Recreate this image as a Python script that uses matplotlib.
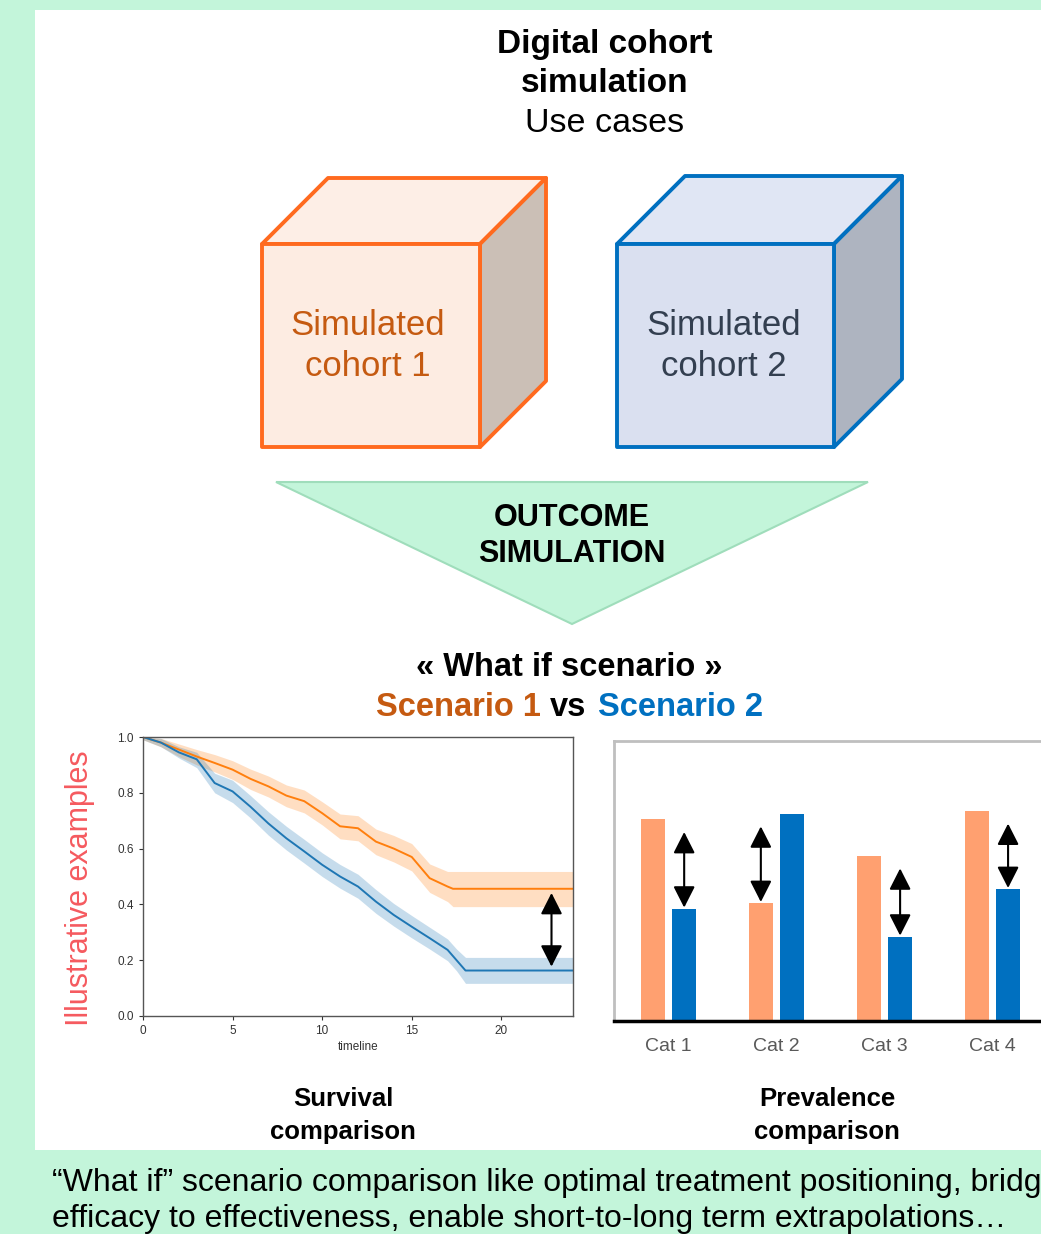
import matplotlib.pyplot as plt
from matplotlib.patches import Polygon, Rectangle

plt.rcParams['font.family'] = ['Liberation Sans', 'DejaVu Sans']

# survival curves
t_orange = [0, 1, 2, 3, 4, 5, 6, 7, 8, 9, 10, 11, 12, 13, 14, 15, 16, 17, 17.3, 24]
s_orange = [1.0, 0.98, 0.955, 0.93, 0.907, 0.883, 0.85, 0.823, 0.79, 0.77, 0.727, 0.68, 0.673, 0.625, 0.60, 0.57, 0.494, 0.464, 0.456, 0.456]
lo_orange = [0.99, 0.965, 0.93, 0.90, 0.875, 0.848, 0.812, 0.785, 0.75, 0.728, 0.685, 0.635, 0.628, 0.578, 0.552, 0.52, 0.443, 0.41, 0.392, 0.392]
hi_orange = [1.0, 0.995, 0.975, 0.955, 0.937, 0.915, 0.885, 0.86, 0.828, 0.81, 0.768, 0.724, 0.718, 0.67, 0.647, 0.618, 0.545, 0.518, 0.518, 0.518]

t_blue = [0, 1, 2, 3, 4, 5, 6, 7, 8, 9, 10, 11, 12, 13, 14, 15, 16, 17, 17.5, 18, 24]
s_blue = [1.0, 0.98, 0.945, 0.92, 0.835, 0.805, 0.75, 0.69, 0.637, 0.59, 0.542, 0.50, 0.464, 0.41, 0.362, 0.32, 0.279, 0.237, 0.20, 0.163, 0.163]
lo_blue = [0.99, 0.965, 0.925, 0.89, 0.80, 0.765, 0.71, 0.648, 0.595, 0.548, 0.50, 0.458, 0.422, 0.368, 0.322, 0.28, 0.24, 0.198, 0.162, 0.117, 0.117]
hi_blue = [1.0, 0.995, 0.965, 0.945, 0.87, 0.845, 0.79, 0.732, 0.68, 0.633, 0.585, 0.543, 0.508, 0.453, 0.403, 0.36, 0.318, 0.276, 0.24, 0.21, 0.21]

# prevalence bars
categories = ['Cat 1', 'Cat 2', 'Cat 3', 'Cat 4']
scenario1 = [72, 42, 59, 75]
scenario2 = [40, 74, 30, 47]

green = '#C3F5DA'
orange_edge = '#FF6A1F'
blue_edge = '#0070C0'
dark_orange = '#C55A11'
arrow_style = '<|-|>,head_length=0.65,head_width=0.33'

W, H = 1041, 1234
fig = plt.figure(figsize=(W / 100, H / 100), dpi=100)
fig.patch.set_facecolor(green)

bg = fig.add_axes([0, 0, 1, 1])
bg.set_xlim(0, W)
bg.set_ylim(H, 0)
bg.axis('off')

# white panel
bg.add_patch(Rectangle((35, 10), W - 35, 1140, facecolor='white', edgecolor='none'))

# titles
bg.text(605, 45, 'Digital cohort', ha='center', va='center', fontsize=24, fontweight='bold')
bg.text(605, 84, 'simulation', ha='center', va='center', fontsize=24, fontweight='bold')
bg.text(605, 124, 'Use cases', ha='center', va='center', fontsize=24.5)


def cube(x0, y0, w, h, d, edge, front, top, side):
    bg.add_patch(Polygon([(x0, y0), (x0 + d, y0 - d), (x0 + w + d, y0 - d), (x0 + w, y0)],
                         closed=True, facecolor=top, edgecolor=edge, lw=2.8, joinstyle='round'))
    bg.add_patch(Polygon([(x0 + w, y0), (x0 + w + d, y0 - d), (x0 + w + d, y0 + h - d), (x0 + w, y0 + h)],
                         closed=True, facecolor=side, edgecolor=edge, lw=2.8, joinstyle='round'))
    bg.add_patch(Rectangle((x0, y0), w, h, facecolor=front, edgecolor=edge, lw=2.8, joinstyle='round'))


cube(262, 244, 218, 203, 66, orange_edge, '#FDECE2', '#FDEEE6', '#CBBFB6')
cube(617, 244, 217, 203, 68, blue_edge, '#DAE0F0', '#E0E6F4', '#AEB4C0')
bg.text(368, 346, 'Simulated\ncohort 1', ha='center', va='center', fontsize=25,
        color=dark_orange, linespacing=1.3)
bg.text(724, 346, 'Simulated\ncohort 2', ha='center', va='center', fontsize=25,
        color='#333F50', linespacing=1.3)

# outcome simulation triangle
bg.add_patch(Polygon([(276, 482), (868, 482), (572, 624)], closed=True,
                     facecolor=green, edgecolor='#9FDDBB', lw=1.5))
bg.text(572, 518, 'OUTCOME', ha='center', va='center', fontsize=22, fontweight='bold')
bg.text(572, 554, 'SIMULATION', ha='center', va='center', fontsize=22, fontweight='bold')

# what if scenario
bg.text(569, 667, '« What if scenario »', ha='center', va='center', fontsize=23.5, fontweight='bold')
bg.text(376, 707, 'Scenario 1', ha='left', va='center', fontsize=23.5, fontweight='bold', color=dark_orange)
bg.text(550, 707, 'vs', ha='left', va='center', fontsize=23.5, fontweight='bold', color='black')
bg.text(598, 707, 'Scenario 2', ha='left', va='center', fontsize=23.5, fontweight='bold', color=blue_edge)

bg.text(80, 888, 'Illustrative examples', ha='center', va='center', rotation=90,
        fontsize=22, color='#F55A5F')

bg.text(343, 1099, 'Survival', ha='center', va='center', fontsize=18.5, fontweight='bold')
bg.text(343, 1132, 'comparison', ha='center', va='center', fontsize=18.5, fontweight='bold')
bg.text(827, 1099, 'Prevalence', ha='center', va='center', fontsize=18.5, fontweight='bold')
bg.text(827, 1132, 'comparison', ha='center', va='center', fontsize=18.5, fontweight='bold')

# bottom caption (runs past the right edge, as in the original)
bg.text(52, 1183, '\u201cWhat if\u201d scenario comparison like optimal treatment positioning, bridge',
        ha='left', va='center', fontsize=23)
bg.text(52, 1219, 'efficacy to effectiveness, enable short-to-long term extrapolations\u2026',
        ha='left', va='center', fontsize=23)

# ---- survival comparison ----
ax1 = fig.add_axes([143 / W, (H - 1016) / H, 430 / W, 279 / H])
ax1.fill_between(t_orange, lo_orange, hi_orange, color='#ff7f0e', alpha=0.25, lw=0)
ax1.fill_between(t_blue, lo_blue, hi_blue, color='#1f77b4', alpha=0.25, lw=0)
ax1.plot(t_orange, s_orange, color='#ff7f0e', lw=1.4)
ax1.plot(t_blue, s_blue, color='#1f77b4', lw=1.4)
ax1.annotate('', xy=(22.8, s_blue[-1] + 0.014), xytext=(22.8, s_orange[-1] - 0.015),
             arrowprops=dict(arrowstyle=arrow_style, color='black', lw=1.5,
                             mutation_scale=20, shrinkA=0, shrinkB=0))
ax1.set_xlim(0, 24)
ax1.set_ylim(0, 1)
ax1.set_xticks([0, 5, 10, 15, 20])
ax1.set_yticks([0.0, 0.2, 0.4, 0.6, 0.8, 1.0])
ax1.tick_params(labelsize=8.5, colors='#333333', length=3, width=0.8)
ax1.set_xlabel('timeline', fontsize=8.5, color='#333333', labelpad=3)
for sp in ax1.spines.values():
    sp.set_color('#555555')
    sp.set_linewidth(1)

# ---- prevalence comparison ----
ax2 = fig.add_axes([614 / W, (H - 1021) / H, (W - 614) / W, 280 / H])
pos = range(len(categories))
bw = 0.225
off = 0.145
ax2.bar([p - off for p in pos], scenario1, bw, color='#FFA070')
ax2.bar([p + off for p in pos], scenario2, bw, color='#0070C0')
for p, a, b in zip(pos, scenario1, scenario2):
    xa = p + off if b < a else p - off
    ax2.annotate('', xy=(xa, min(a, b) + 0.5), xytext=(xa, max(a, b) - 4.5),
                 arrowprops=dict(arrowstyle=arrow_style, color='black', lw=1.5,
                                 mutation_scale=20, shrinkA=0, shrinkB=0))
ax2.set_xlim(-0.505, 3.45)
ax2.set_ylim(0, 100)
ax2.set_yticks([])
ax2.set_xticks(list(pos))
ax2.set_xticklabels(categories, fontsize=14, color='#595959')
ax2.tick_params(axis='x', length=0, pad=12)
ax2.spines['right'].set_visible(False)
ax2.spines['left'].set_color('#BFBFBF')
ax2.spines['left'].set_linewidth(2)
ax2.spines['top'].set_color('#BFBFBF')
ax2.spines['top'].set_linewidth(2)
ax2.spines['bottom'].set_color('black')
ax2.spines['bottom'].set_linewidth(2.5)

plt.savefig('out.png', dpi=100, facecolor=fig.get_facecolor())
